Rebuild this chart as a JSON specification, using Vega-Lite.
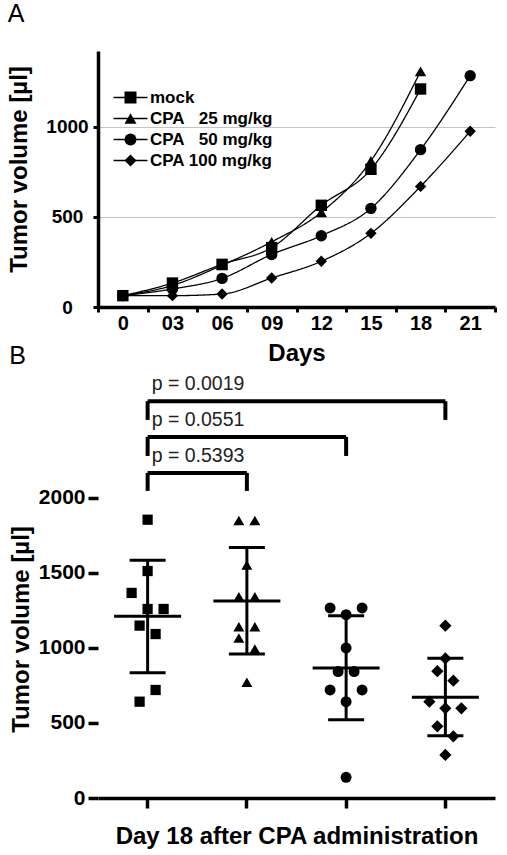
{
  "$schema": "https://vega.github.io/schema/vega-lite/v6.json",
  "padding": {"left": 7, "top": 2, "right": 0, "bottom": 0},
  "background": "white",
  "config": {
    "font": "Liberation Sans",
    "view": {"stroke": null},
    "axis": {"labelFont": "Liberation Sans", "titleFont": "Liberation Sans", "labelFontWeight": "bold", "titleFontWeight": "bold", "labelColor": "black", "titleColor": "black", "domainColor": "black", "tickColor": "black", "grid": false},
    "title": {"font": "Liberation Sans", "fontWeight": "normal", "color": "black", "anchor": "start", "frame": "bounds", "baseline": "alphabetic", "fontSize": 25}
  },
  "datasets": {
    "growth": [
      {"series": "mock", "day": "0", "volume": 63},
      {"series": "mock", "day": "03", "volume": 133},
      {"series": "mock", "day": "06", "volume": 237},
      {"series": "mock", "day": "09", "volume": 330},
      {"series": "mock", "day": "12", "volume": 565},
      {"series": "mock", "day": "15", "volume": 765},
      {"series": "mock", "day": "18", "volume": 1211},
      {"series": "CPA\u00a0\u00a0\u00a025 mg/kg", "day": "0", "volume": 63},
      {"series": "CPA\u00a0\u00a0\u00a025 mg/kg", "day": "03", "volume": 120},
      {"series": "CPA\u00a0\u00a0\u00a025 mg/kg", "day": "06", "volume": 232},
      {"series": "CPA\u00a0\u00a0\u00a025 mg/kg", "day": "09", "volume": 362},
      {"series": "CPA\u00a0\u00a0\u00a025 mg/kg", "day": "12", "volume": 526},
      {"series": "CPA\u00a0\u00a0\u00a025 mg/kg", "day": "15", "volume": 812},
      {"series": "CPA\u00a0\u00a0\u00a025 mg/kg", "day": "18", "volume": 1309},
      {"series": "CPA\u00a0\u00a0\u00a050 mg/kg", "day": "0", "volume": 63},
      {"series": "CPA\u00a0\u00a0\u00a050 mg/kg", "day": "03", "volume": 100},
      {"series": "CPA\u00a0\u00a0\u00a050 mg/kg", "day": "06", "volume": 159},
      {"series": "CPA\u00a0\u00a0\u00a050 mg/kg", "day": "09", "volume": 292},
      {"series": "CPA\u00a0\u00a0\u00a050 mg/kg", "day": "12", "volume": 396},
      {"series": "CPA\u00a0\u00a0\u00a050 mg/kg", "day": "15", "volume": 548},
      {"series": "CPA\u00a0\u00a0\u00a050 mg/kg", "day": "18", "volume": 874},
      {"series": "CPA\u00a0\u00a0\u00a050 mg/kg", "day": "21", "volume": 1285},
      {"series": "CPA 100 mg/kg", "day": "0", "volume": 63},
      {"series": "CPA 100 mg/kg", "day": "03", "volume": 63},
      {"series": "CPA 100 mg/kg", "day": "06", "volume": 72},
      {"series": "CPA 100 mg/kg", "day": "09", "volume": 161},
      {"series": "CPA 100 mg/kg", "day": "12", "volume": 254},
      {"series": "CPA 100 mg/kg", "day": "15", "volume": 409},
      {"series": "CPA 100 mg/kg", "day": "18", "volume": 670},
      {"series": "CPA 100 mg/kg", "day": "21", "volume": 976}
    ],
    "day18": [
      {"group": "Mock", "jitter": 0, "volume": 1855},
      {"group": "Mock", "jitter": 0, "volume": 1513},
      {"group": "Mock", "jitter": -2, "volume": 1367},
      {"group": "Mock", "jitter": 0, "volume": 1260},
      {"group": "Mock", "jitter": 2, "volume": 1260},
      {"group": "Mock", "jitter": -1, "volume": 1149},
      {"group": "Mock", "jitter": 1, "volume": 1093},
      {"group": "Mock", "jitter": 1, "volume": 720},
      {"group": "Mock", "jitter": -1, "volume": 642},
      {"group": "CPA 25", "jitter": -1, "volume": 1849},
      {"group": "CPA 25", "jitter": 1, "volume": 1849},
      {"group": "CPA 25", "jitter": 0, "volume": 1553},
      {"group": "CPA 25", "jitter": -1, "volume": 1342},
      {"group": "CPA 25", "jitter": 1, "volume": 1342},
      {"group": "CPA 25", "jitter": -1, "volume": 1142},
      {"group": "CPA 25", "jitter": 1, "volume": 1142},
      {"group": "CPA 25", "jitter": -1, "volume": 1067},
      {"group": "CPA 25", "jitter": 1, "volume": 993},
      {"group": "CPA 25", "jitter": 0, "volume": 771},
      {"group": "CPA 50", "jitter": -2, "volume": 1267},
      {"group": "CPA 50", "jitter": 2, "volume": 1267},
      {"group": "CPA 50", "jitter": 0, "volume": 1222},
      {"group": "CPA 50", "jitter": 0, "volume": 1000},
      {"group": "CPA 50", "jitter": -1, "volume": 843},
      {"group": "CPA 50", "jitter": 1, "volume": 843},
      {"group": "CPA 50", "jitter": -2, "volume": 720},
      {"group": "CPA 50", "jitter": 2, "volume": 720},
      {"group": "CPA 50", "jitter": 0, "volume": 642},
      {"group": "CPA 50", "jitter": 0, "volume": 138},
      {"group": "CPA 100", "jitter": 0, "volume": 1149},
      {"group": "CPA 100", "jitter": 0, "volume": 930},
      {"group": "CPA 100", "jitter": -1, "volume": 845},
      {"group": "CPA 100", "jitter": 1, "volume": 782},
      {"group": "CPA 100", "jitter": -2, "volume": 642},
      {"group": "CPA 100", "jitter": 0, "volume": 598},
      {"group": "CPA 100", "jitter": 2, "volume": 598},
      {"group": "CPA 100", "jitter": -1, "volume": 478},
      {"group": "CPA 100", "jitter": 1, "volume": 411},
      {"group": "CPA 100", "jitter": 0, "volume": 287}
    ],
    "stats": [
      {"group": "Mock", "mean": 1211, "hi": 1585, "lo": 835},
      {"group": "CPA 25", "mean": 1313, "hi": 1669, "lo": 960},
      {"group": "CPA 50", "mean": 867, "hi": 1215, "lo": 522},
      {"group": "CPA 100", "mean": 671, "hi": 931, "lo": 415}
    ],
    "brackets": [
      {"a": "Mock", "b": "CPA 25", "top": 2167, "leg": 2047, "p": "p = 0.5393"},
      {"a": "Mock", "b": "CPA 50", "top": 2407, "leg": 2280, "p": "p = 0.0551"},
      {"a": "Mock", "b": "CPA 100", "top": 2645, "leg": 2520, "p": "p = 0.0019"}
    ]
  },
  "bounds": "flush",
  "spacing": 87,
  "vconcat": [
    {
      "width": 397,
      "height": 256,
      "title": {"text": "A", "offset": 24},
      "data": {"name": "growth"},
      "encoding": {
        "x": {"field": "day", "type": "nominal",
          "scale": {"domain": ["0", "03", "06", "09", "12", "15", "18", "21"], "paddingInner": 0, "paddingOuter": 0},
          "axis": {"title": "Days", "titleFontSize": 24, "titlePadding": 8, "labelFontSize": 20, "labelAngle": 0, "labelPadding": 1, "tickBand": "extent", "tickSize": 5, "tickWidth": 3, "domainWidth": 3.5}},
        "y": {"field": "volume", "type": "quantitative",
          "scale": {"domain": [0, 1422], "nice": false},
          "axis": {"title": "Tumor volume [µl]", "titleFontSize": 24, "titlePadding": 14, "titleY": 118, "values": [0, 500, 1000], "format": "d", "labelFontSize": 19, "labelAlign": "center", "labelPadding": 26, "tickSize": 5, "tickWidth": 3, "domainWidth": 3.5, "grid": true, "gridColor": "#c4c4c4", "gridWidth": 1}}
      },
      "layer": [
        {"mark": {"type": "line", "interpolate": "monotone", "color": "black", "strokeWidth": 1.3},
          "encoding": {"strokeDash": {"field": "series", "type": "nominal",
            "scale": {"domain": ["mock", "CPA\u00a0\u00a0\u00a025 mg/kg", "CPA\u00a0\u00a0\u00a050 mg/kg", "CPA 100 mg/kg", "\u00a0"], "range": [[1, 0], [1, 0], [1, 0], [1, 0], [0, 100]]},
            "legend": {"title": null, "orient": "none", "legendX": 24, "legendY": 38, "padding": 0, "symbolType": "M-2.83,0H2.83", "symbolSize": 144, "symbolStrokeColor": "black", "symbolStrokeWidth": 1.4, "symbolOpacity": 1, "labelFont": "Liberation Sans", "labelFontSize": 17, "labelFontWeight": "bold", "labelColor": "transparent", "labelOffset": 11, "rowPadding": 3}}}},
        {"mark": {"type": "point", "filled": true, "color": "black", "opacity": 1, "size": 130},
          "encoding": {"shape": {"field": "series", "type": "nominal",
            "scale": {"domain": ["mock", "CPA\u00a0\u00a0\u00a025 mg/kg", "CPA\u00a0\u00a0\u00a050 mg/kg", "CPA 100 mg/kg"], "range": ["square", "triangle-up", "circle", "diamond"]},
            "legend": {"title": null, "orient": "none", "legendX": 24, "legendY": 38, "padding": 0, "symbolSize": 144, "symbolFillColor": "black", "symbolStrokeColor": "black", "symbolStrokeWidth": 1, "symbolOpacity": 1, "labelFont": "Liberation Sans", "labelFontSize": 17, "labelFontWeight": "bold", "labelColor": "black", "labelOffset": 11, "rowPadding": 3}}}}
      ]
    },
    {
      "width": 397,
      "height": 404,
      "title": {"text": "B", "offset": 5},
      "encoding": {
        "x": {"field": "group", "type": "nominal",
          "scale": {"domain": ["Mock", "CPA 25", "CPA 50", "CPA 100"], "paddingInner": 0, "paddingOuter": 0},
          "axis": {"title": "Day 18 after CPA administration", "titleFontSize": 24, "titlePadding": 15, "labels": false, "tickSize": 10, "tickWidth": 3.5, "domainWidth": 3.5}},
        "y": {"field": "volume", "type": "quantitative",
          "scale": {"domain": [0, 2693], "nice": false},
          "axis": {"title": "Tumor volume [µl]", "titleFontSize": 24, "titlePadding": 5, "titleY": 235, "values": [0, 500, 1000, 1500, 2000], "format": "d", "domain": false, "labelFontSize": 21, "tickSize": 10, "tickWidth": 3.5, "labelPadding": 3}}
      },
      "layer": [
        {"data": {"name": "day18"},
          "transform": [{"filter": {"field": "group", "equal": "Mock"}}],
          "mark": {"type": "point", "shape": "square", "filled": true, "color": "black", "opacity": 1, "size": 105},
          "encoding": {"xOffset": {"field": "jitter", "type": "quantitative", "scale": {"domain": [-2, 2], "range": [33.6, 65.6]}}}},
        {"data": {"name": "day18"},
          "transform": [{"filter": {"field": "group", "equal": "CPA 25"}}],
          "mark": {"type": "point", "shape": "triangle-up", "filled": true, "color": "black", "opacity": 1, "size": 120},
          "encoding": {"xOffset": {"field": "jitter", "type": "quantitative", "scale": {"domain": [-2, 2], "range": [33.6, 65.6]}}}},
        {"data": {"name": "day18"},
          "transform": [{"filter": {"field": "group", "equal": "CPA 50"}}],
          "mark": {"type": "point", "shape": "circle", "filled": true, "color": "black", "opacity": 1, "size": 120},
          "encoding": {"xOffset": {"field": "jitter", "type": "quantitative", "scale": {"domain": [-2, 2], "range": [33.6, 65.6]}}}},
        {"data": {"name": "day18"},
          "transform": [{"filter": {"field": "group", "equal": "CPA 100"}}],
          "mark": {"type": "point", "shape": "diamond", "filled": true, "color": "black", "opacity": 1, "size": 150},
          "encoding": {"xOffset": {"field": "jitter", "type": "quantitative", "scale": {"domain": [-2, 2], "range": [33.6, 65.6]}}}},
        {"mark": {"type": "rule", "color": "black", "strokeWidth": 4},
          "encoding": {
            "x": {"datum": "Mock", "type": "nominal", "bandPosition": 0},
            "y": {"datum": 0, "type": "quantitative"},
            "y2": {"datum": 2000}
          }},
        {"data": {"name": "stats"},
          "mark": {"type": "rule", "color": "black", "strokeWidth": 3},
          "encoding": {
            "y": {"field": "lo", "type": "quantitative"},
            "y2": {"field": "hi"}
          }},
        {"data": {"name": "stats"},
          "mark": {"type": "tick", "color": "black", "size": 67, "thickness": 3, "opacity": 1},
          "encoding": {
            "y": {"field": "mean", "type": "quantitative"}
          }},
        {"data": {"name": "stats"},
          "mark": {"type": "tick", "color": "black", "size": 36, "thickness": 3, "opacity": 1},
          "encoding": {
            "y": {"field": "hi", "type": "quantitative"}
          }},
        {"data": {"name": "stats"},
          "mark": {"type": "tick", "color": "black", "size": 36, "thickness": 3, "opacity": 1},
          "encoding": {
            "y": {"field": "lo", "type": "quantitative"}
          }},
        {"data": {"name": "brackets"},
          "mark": {"type": "rule", "color": "black", "strokeWidth": 4},
          "encoding": {
            "x": {"field": "a", "type": "nominal"},
            "x2": {"field": "b"},
            "y": {"field": "top", "type": "quantitative"}
          }},
        {"data": {"name": "brackets"},
          "transform": [{"fold": ["a", "b"], "as": ["end", "g"]}],
          "mark": {"type": "rule", "color": "black", "strokeWidth": 4},
          "encoding": {
            "x": {"field": "g", "type": "nominal"},
            "y": {"field": "top", "type": "quantitative"},
            "y2": {"field": "leg"}
          }},
        {"data": {"name": "brackets"},
          "mark": {"type": "text", "align": "left", "baseline": "alphabetic", "dx": 4, "dy": -11, "fontSize": 19.5, "color": "#222222", "font": "Liberation Sans"},
          "encoding": {
            "x": {"field": "a", "type": "nominal"},
            "y": {"field": "top", "type": "quantitative"},
            "text": {"field": "p"}
          }}
      ]
    }
  ]
}
